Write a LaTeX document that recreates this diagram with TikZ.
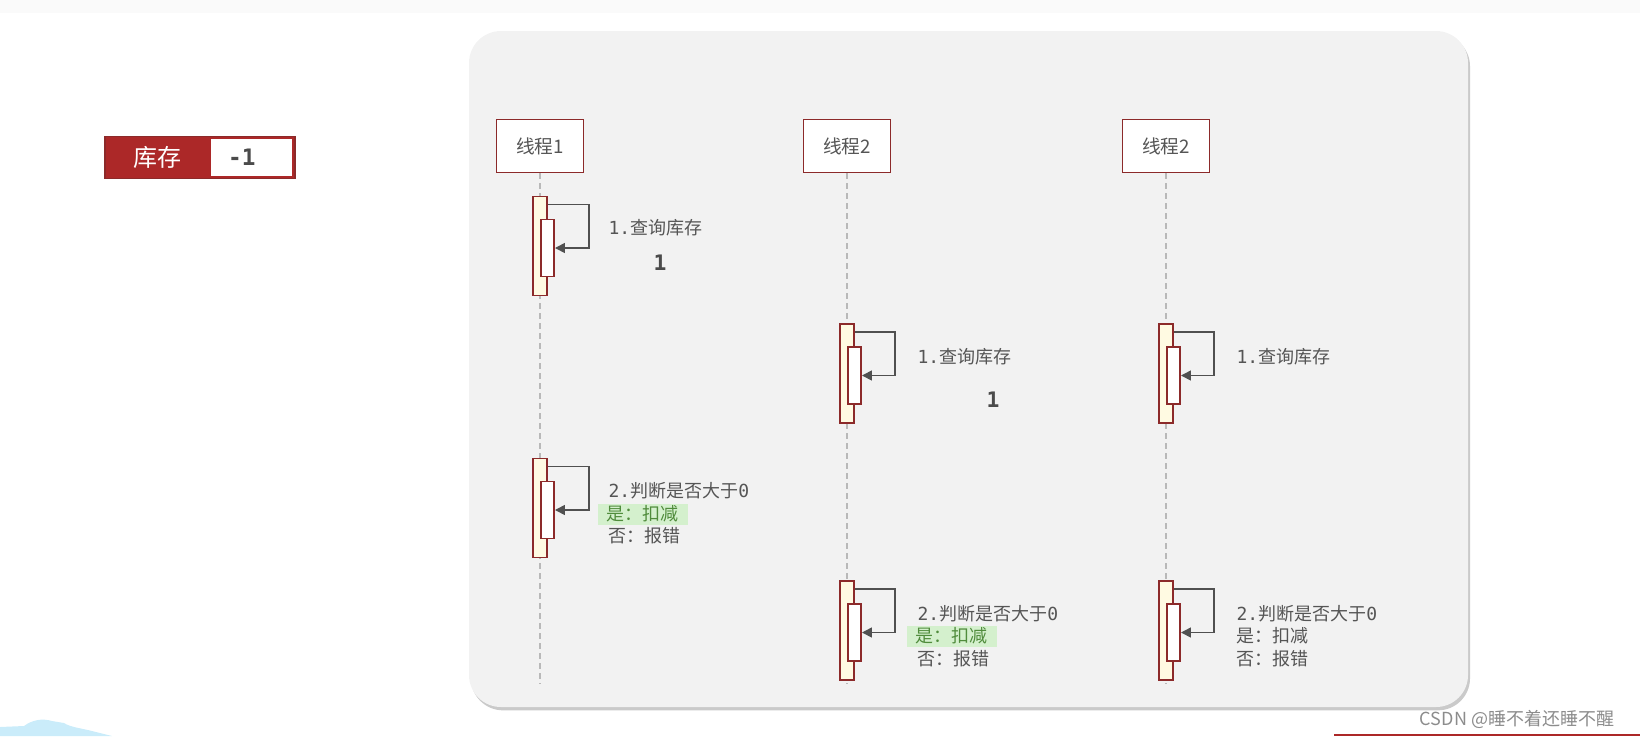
\documentclass[tikz,border=0pt]{standalone}
\usepackage{fontspec}
\setmainfont{Noto Sans CJK SC}
\newfontfamily\numfont{DejaVu Sans Mono}
\usepackage{xcolor}
\usetikzlibrary{arrows.meta,positioning,calc,shadows}

\definecolor{stockRed}{RGB}{172,40,40}
\definecolor{lineRed}{RGB}{140,42,42}
\definecolor{barYellow}{RGB}{255,250,226}
\definecolor{panelGray}{RGB}{242,242,242}
\definecolor{textGray}{RGB}{85,85,85}
\definecolor{textDark}{RGB}{75,75,75}
\definecolor{arrowGray}{RGB}{80,80,80}
\definecolor{lineGray}{RGB}{185,185,185}
\definecolor{hlGreen}{RGB}{212,240,205}
\definecolor{hlText}{RGB}{80,140,60}
\definecolor{hillBlue}{RGB}{202,236,250}

\begin{document}
\begin{tikzpicture}[
      x=0.75pt, y=-0.75pt,
      thread/.style={rectangle, draw=lineRed, line width=1.1pt, fill=white, minimum width=65pt, minimum height=39.5pt, font=\fontsize{14}{16}\selectfont, text=textGray},
      outerbar/.style={rectangle, draw=lineRed, line width=1.2pt, fill=barYellow, minimum width=10.5pt, minimum height=74.5pt, inner sep=0pt},
      innerbar/.style={rectangle, draw=lineRed, line width=1.2pt, fill=white, minimum width=10pt, minimum height=43pt, inner sep=0pt},
      lifeline/.style={draw=lineGray, line width=1pt, dash pattern=on 4.5pt off 3pt},
      selfloop/.style={draw=arrowGray, line width=1.2pt, -{Triangle[length=7.5pt,width=7.5pt]}},
      msg/.style={anchor=west, font=\fontsize{13.5}{16}\selectfont, text=textGray, inner sep=1pt},
      hit/.style={msg, fill=hlGreen, text=hlText, inner xsep=6.5pt, inner ysep=0pt, minimum height=15.75pt},
      count/.style={font=\numfont\bfseries\fontsize{16}{18}\selectfont, text=textDark},
      stockbox/.style={rectangle, draw=lineRed, line width=0.9pt, fill=stockRed, minimum width=142.5pt, minimum height=32pt, inner sep=0pt},
      valbox/.style={rectangle, fill=white, minimum height=27.5pt, text width=35pt, inner xsep=12.75pt, align=left, font=\numfont\bfseries\fontsize{17}{19}\selectfont, text=textDark}
    ]
    \useasboundingbox (0,0) rectangle (1640,736);

    % ============ PAGE ============
    \fill[black!2] (0,0) rectangle (1640,13);
    \fill[panelGray, rounded corners=24pt, drop shadow={shadow xshift=1.5pt, shadow yshift=-2.5pt, fill=black!35, opacity=0.6}] (469,31) rectangle (1468,707);

    % ============ STOCK ============
    \node[stockbox] (stock) at (200,157.5) {};
    \node[text=white, font=\fontsize{18}{20}\selectfont] (stocklabel) at (157,157.5) {库存};
    \node[valbox] (stockval) at (251.5,157.5) {-1};

    % ============ THREADS ============
    \node[thread] (t1) at (540,146) {线程1};
    \node[thread] (t2) at (847,146) {线程2};
    \node[thread] (t3) at (1166,146) {线程2};

    \coordinate (end1) at (540,684);
    \coordinate (end2) at (847,684);
    \coordinate (end3) at (1166,684);

    \draw[lifeline] (t1) -- (end1);
    \draw[lifeline] (t2) -- (end2);
    \draw[lifeline] (t3) -- (end3);

    % ============ THREAD 1 ============
    % Query
    \node[outerbar] (a1) at (540,246) {};
    \node[innerbar] (a1in) at ($(a1.center)+(7.5,2)$) {};
    \draw[selfloop] ($(a1.north east)+(0,9)$) -- ++(41,0) |- (a1in.east);
    \node[msg] (q1) at (607,228) {{\numfont 1.}查询库存};
    \node[count] (v1) at (660,263) {1};

    % Check
    \node[outerbar] (b1) at (540,508) {};
    \node[innerbar] (b1in) at ($(b1.center)+(7.5,2)$) {};
    \draw[selfloop] ($(b1.north east)+(0,9)$) -- ++(41,0) |- (b1in.east);
    \node[msg] (j1) at (607,491) {{\numfont 2.}判断是否大于{\numfont 0}};
    \node[hit] (y1) at (598,514) {是：扣减};
    \node[msg] (n1) at (607,536) {否：报错};

    % ============ THREAD 2 ============
    % Query
    \node[outerbar] (a2) at (847,373.5) {};
    \node[innerbar] (a2in) at ($(a2.center)+(7.5,2)$) {};
    \draw[selfloop] ($(a2.north east)+(0,9)$) -- ++(40,0) |- (a2in.east);
    \node[msg] (q2) at (916,357) {{\numfont 1.}查询库存};
    \node[count] (v2) at (993,400) {1};

    % Check
    \node[outerbar] (b2) at (847,630.5) {};
    \node[innerbar] (b2in) at ($(b2.center)+(7.5,2)$) {};
    \draw[selfloop] ($(b2.north east)+(0,9)$) -- ++(40,0) |- (b2in.east);
    \node[msg] (j2) at (916,614) {{\numfont 2.}判断是否大于{\numfont 0}};
    \node[hit] (y2) at (907,636) {是：扣减};
    \node[msg] (n2) at (916,659) {否：报错};

    % ============ THREAD 3 ============
    % Query
    \node[outerbar] (a3) at (1166,373.5) {};
    \node[innerbar] (a3in) at ($(a3.center)+(7.5,2)$) {};
    \draw[selfloop] ($(a3.north east)+(0,9)$) -- ++(40,0) |- (a3in.east);
    \node[msg] (q3) at (1235,357) {{\numfont 1.}查询库存};

    % Check
    \node[outerbar] (b3) at (1166,630.5) {};
    \node[innerbar] (b3in) at ($(b3.center)+(7.5,2)$) {};
    \draw[selfloop] ($(b3.north east)+(0,9)$) -- ++(40,0) |- (b3in.east);
    \node[msg] (j3) at (1235,614) {{\numfont 2.}判断是否大于{\numfont 0}};
    \node[msg] (y3) at (1235,636) {是：扣减};
    \node[msg] (n3) at (1235,659) {否：报错};

    % ============ FOOTER ============
    \fill[hillBlue] (0,736) -- (0,727) -- (24,726) .. controls (32,720) and (42,718) .. (52,721) -- (64,723) .. controls (70,727) and (80,728) .. (92,731) -- (112,736) -- cycle;
    \fill[stockRed] (1334,733.5) rectangle (1640,736);
    \node[text=black!45, font=\fontsize{13.5}{15}\selectfont] (mark) at (1517,719) {CSDN @睡不着还睡不醒};

  \end{tikzpicture}
\end{document}
